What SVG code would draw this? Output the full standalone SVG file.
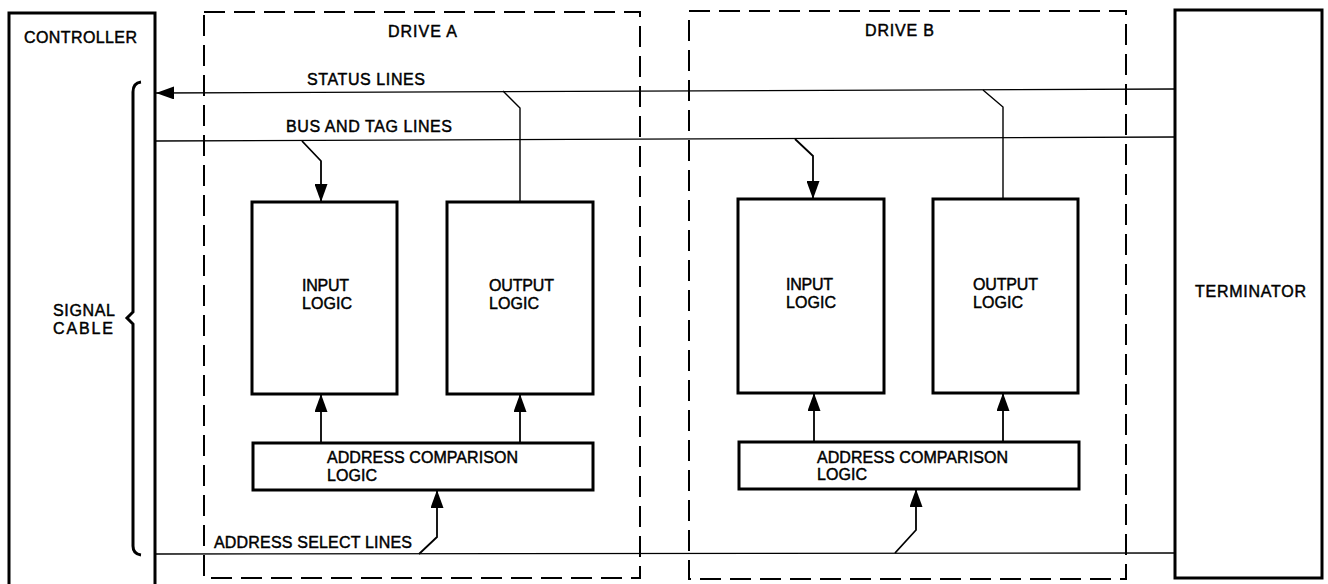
<svg xmlns="http://www.w3.org/2000/svg" width="1328" height="584" viewBox="0 0 1328 584">
<style>
.box{fill:#fff;stroke:#000;stroke-width:3}
.dash{fill:none;stroke:#000;stroke-width:2;stroke-dasharray:21 9}
.ln{fill:none;stroke:#000;stroke-width:1.4}
.ar{fill:none;stroke:#000;stroke-width:1.8}
text{font-family:"Liberation Sans",Arial,sans-serif;font-size:16px;fill:#000;stroke:#000;stroke-width:0.45}
</style>
<defs>
<marker id="ah" markerWidth="18" markerHeight="13" refX="18" refY="6.5" orient="auto" markerUnits="userSpaceOnUse">
<path d="M0,0 L18,6.5 L0,13 Z" fill="#000"/>
</marker>
</defs>
<rect width="1328" height="584" fill="#fff"/>
<g id="controller">
<path d="M9,590 V13 H155 V590" class="box" fill="none"/>
<text x="24" y="43" textLength="113" lengthAdjust="spacing">CONTROLLER</text>
</g>
<g id="signal-cable">
<path d="M141,82 Q133,83 133,92 V312 L127,318 L133,324 V546 Q133,554 141,555" fill="none" stroke="#000" stroke-width="3"/>
<text x="53" y="316" textLength="62" lengthAdjust="spacing">SIGNAL</text>
<text x="53" y="334" textLength="60" lengthAdjust="spacing">CABLE</text>
</g>
<g id="drive-a">
<rect x="204" y="12" width="436" height="566" class="dash"/>
<text x="388" y="37" textLength="69" lengthAdjust="spacing">DRIVE A</text>
</g>
<g id="drive-b">
<rect x="689" y="11" width="437" height="568" class="dash"/>
<text x="865" y="36" textLength="69" lengthAdjust="spacing">DRIVE B</text>
</g>
<g id="terminator">
<rect x="1175" y="10" width="147" height="568" class="box"/>
<text x="1195" y="297" textLength="111" lengthAdjust="spacing">TERMINATOR</text>
</g>
<g id="input-logic-a">
<rect x="252" y="202" width="145" height="192" class="box"/>
<text x="302" y="291" textLength="47" lengthAdjust="spacing">INPUT</text>
<text x="302" y="309" textLength="50" lengthAdjust="spacing">LOGIC</text>
</g>
<g id="output-logic-a">
<rect x="447" y="202" width="146" height="192" class="box"/>
<text x="489" y="291" textLength="65" lengthAdjust="spacing">OUTPUT</text>
<text x="489" y="309" textLength="50" lengthAdjust="spacing">LOGIC</text>
</g>
<g id="address-comparison-a">
<rect x="253" y="443" width="340" height="47" class="box"/>
<text x="327" y="463" textLength="191" lengthAdjust="spacing">ADDRESS COMPARISON</text>
<text x="327" y="481" textLength="50" lengthAdjust="spacing">LOGIC</text>
</g>
<g id="input-logic-b">
<rect x="738" y="199" width="146" height="194" class="box"/>
<text x="786" y="290" textLength="47" lengthAdjust="spacing">INPUT</text>
<text x="786" y="308" textLength="50" lengthAdjust="spacing">LOGIC</text>
</g>
<g id="output-logic-b">
<rect x="933" y="199" width="145" height="194" class="box"/>
<text x="973" y="290" textLength="65" lengthAdjust="spacing">OUTPUT</text>
<text x="973" y="308" textLength="50" lengthAdjust="spacing">LOGIC</text>
</g>
<g id="address-comparison-b">
<rect x="739" y="442" width="340" height="47" class="box"/>
<text x="817" y="463" textLength="191" lengthAdjust="spacing">ADDRESS COMPARISON</text>
<text x="817" y="480" textLength="50" lengthAdjust="spacing">LOGIC</text>
</g>
<g id="connectors">
<line x1="1175" y1="89" x2="156" y2="93" class="ln" marker-end="url(#ah)"/>
<line x1="155" y1="141" x2="1175" y2="137" class="ln"/>
<line x1="155" y1="554" x2="1175" y2="553" class="ln"/>
<polyline points="302,141 321,161 321,202" class="ar" marker-end="url(#ah)"/>
<polyline points="520,202 520,108 503,91" class="ln"/>
<line x1="321" y1="443" x2="321" y2="394" class="ar" marker-end="url(#ah)"/>
<line x1="520" y1="443" x2="520" y2="394" class="ar" marker-end="url(#ah)"/>
<polyline points="419,554 437,537 437,490" class="ar" marker-end="url(#ah)"/>
<polyline points="795,139 813,156 813,199" class="ar" marker-end="url(#ah)"/>
<polyline points="1003,199 1003,107 983,90" class="ln"/>
<line x1="814" y1="442" x2="814" y2="393" class="ar" marker-end="url(#ah)"/>
<line x1="1003" y1="442" x2="1003" y2="393" class="ar" marker-end="url(#ah)"/>
<polyline points="895,553 916,530 916,489" class="ar" marker-end="url(#ah)"/>
</g>
<g id="labels">
<text x="307" y="85" textLength="118" lengthAdjust="spacing">STATUS LINES</text>
<text x="286" y="132" textLength="166" lengthAdjust="spacing">BUS AND TAG LINES</text>
<text x="214" y="548" textLength="198" lengthAdjust="spacing">ADDRESS SELECT LINES</text>
</g>
</svg>
